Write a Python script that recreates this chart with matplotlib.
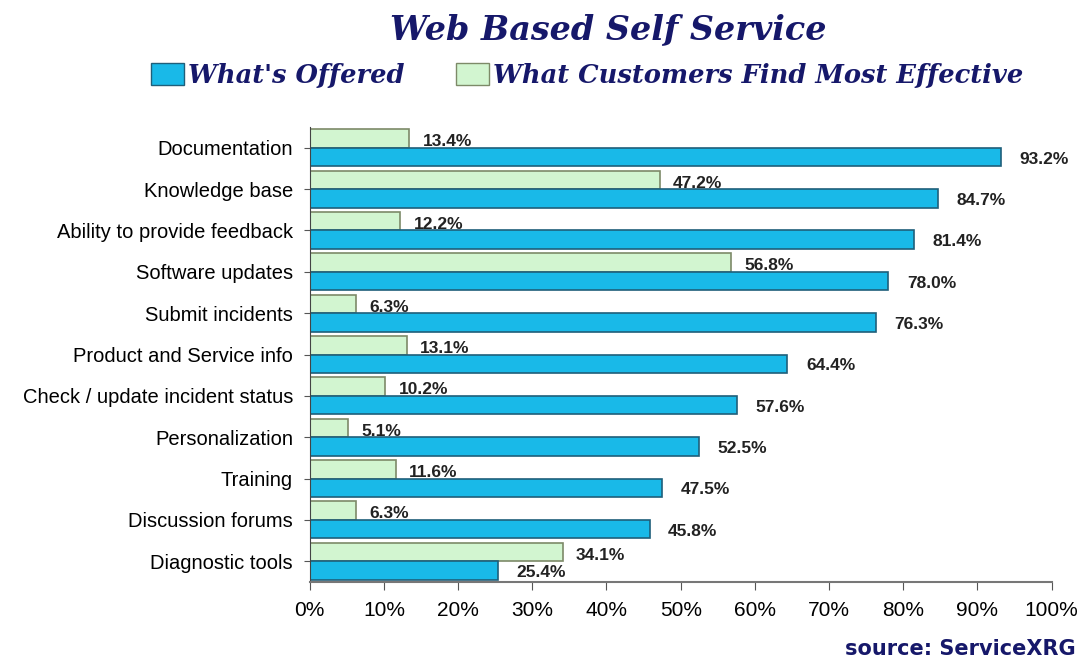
import matplotlib.pyplot as plt
import matplotlib.patches as mpatches
import matplotlib.ticker as mticker
import numpy as np

# data
categories = ['Documentation', 'Knowledge base', 'Ability to provide feedback',
              'Software updates', 'Submit incidents', 'Product and Service info',
              'Check / update incident status', 'Personalization', 'Training',
              'Discussion forums', 'Diagnostic tools']
offered = [93.2, 84.7, 81.4, 78.0, 76.3, 64.4, 57.6, 52.5, 47.5, 45.8, 25.4]
effective = [13.4, 47.2, 12.2, 56.8, 6.3, 13.1, 10.2, 5.1, 11.6, 6.3, 34.1]
x_ticks = [0, 10, 20, 30, 40, 50, 60, 70, 80, 90, 100]

blue = '#19b9e8'
blue_edge = '#1f5f7a'
green = '#d2f5d0'
green_edge = '#7d8a68'
navy = '#16186a'

fig = plt.figure(figsize=(10.83, 6.62), dpi=100)
ax = fig.add_axes([0.286, 0.121, 0.685, 0.687])

y = np.arange(len(categories))
h = 0.45
ax.barh(y - h / 2, effective, height=h, color=green, edgecolor=green_edge, linewidth=1.2)
ax.barh(y + h / 2, offered, height=h, color=blue, edgecolor=blue_edge, linewidth=1.2)

for i in range(len(categories)):
    ax.text(effective[i] + 1.8, y[i] - h / 2 + 0.08, '%.1f%%' % effective[i],
            va='center', ha='left', fontsize=12.5, fontweight='bold', color='#222222',
            family='Liberation Sans')
    ax.text(offered[i] + 2.5, y[i] + h / 2 + 0.05, '%.1f%%' % offered[i],
            va='center', ha='left', fontsize=12.5, fontweight='bold', color='#222222',
            family='Liberation Sans')

ax.set_ylim(len(categories) - 0.5, -0.5)
ax.set_xlim(0, 100)
ax.set_yticks(y)
ax.set_yticklabels(categories, fontsize=14.5, family='Liberation Sans')
ax.set_xticks(x_ticks)
ax.xaxis.set_major_formatter(mticker.FuncFormatter(lambda v, p: '%d%%' % v))
for lbl in ax.get_xticklabels():
    lbl.set_fontsize(15)
    lbl.set_family('Liberation Sans')
ax.tick_params(axis='x', length=6, pad=8, color='#555555')
ax.tick_params(axis='y', length=4, pad=8, color='#555555')
for s in ['top', 'right']:
    ax.spines[s].set_visible(False)
ax.spines['left'].set_color('#444444')
ax.spines['bottom'].set_color('#777777')
ax.spines['bottom'].set_linewidth(1.5)

fig.text(0.562, 0.955, 'Web Based Self Service', ha='center', va='center',
         fontsize=24, fontweight='bold', style='italic', family='DejaVu Serif', color=navy)

handles = [mpatches.Patch(facecolor=blue, edgecolor=blue_edge, label="What's Offered"),
           mpatches.Patch(facecolor=green, edgecolor=green_edge, label='What Customers Find Most Effective')]
fig.legend(handles=handles, loc='center', bbox_to_anchor=(0.542, 0.886), ncol=2,
           frameon=False, handlelength=1.3, handleheight=0.9, handletextpad=0.15,
           columnspacing=2.0,
           prop={'family': 'DejaVu Serif', 'weight': 'bold', 'style': 'italic', 'size': 18.5})
for t in fig.legends[0].get_texts():
    t.set_color(navy)

fig.text(0.993, 0.005, 'source: ServiceXRG', ha='right', va='bottom', fontsize=15,
         fontweight='bold', family='DejaVu Sans', color=navy)

fig.savefig('out.png', dpi=100, facecolor='white')
